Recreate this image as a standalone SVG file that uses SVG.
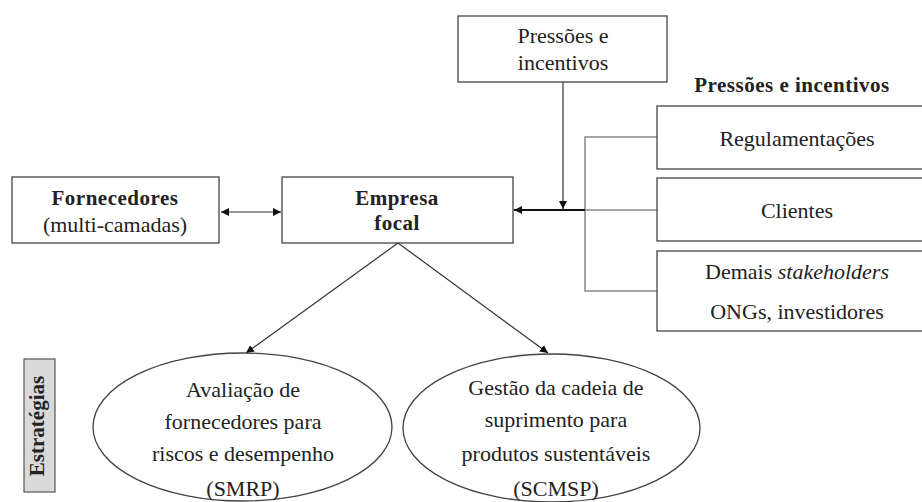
<svg xmlns="http://www.w3.org/2000/svg" width="922" height="502" viewBox="0 0 922 502">
<style>
text{font-family:"Liberation Serif","Times New Roman",serif;font-size:22px;fill:#222;text-anchor:middle}
.b{font-weight:bold;font-size:21px;letter-spacing:0.5px}
.box{fill:#fff;stroke:#444;stroke-width:1.3}
.ell{fill:#fff;stroke:#444;stroke-width:1.3}
.ln{fill:none;stroke:#333;stroke-width:1.2}
.gl{fill:none;stroke:#888;stroke-width:1.5}
</style>
<defs>
<marker id="ah" viewBox="0 0 10 10" refX="10" refY="5" markerWidth="8" markerHeight="8" markerUnits="userSpaceOnUse" orient="auto-start-reverse">
<path d="M0,0L10,5L0,10Z" fill="#111"/>
</marker>
</defs>
<g id="connectors">
<line class="ln" x1="221" y1="212" x2="281" y2="212" marker-start="url(#ah)" marker-end="url(#ah)"/>
<line class="ln" x1="563" y1="82" x2="563" y2="209" marker-end="url(#ah)"/>
<polyline class="gl" points="657,137 585,137 585,291 657,291"/>
<line class="gl" x1="585" y1="210" x2="657" y2="210"/>
<line x1="585" y1="210" x2="514" y2="210" stroke="#111" stroke-width="2" marker-end="url(#ah)"/>
<line class="ln" x1="398" y1="243" x2="246" y2="353" marker-end="url(#ah)"/>
<line class="ln" x1="398" y1="243" x2="548" y2="353" marker-end="url(#ah)"/>
</g>
<g id="fornecedores">
<rect class="box" x="12" y="177" width="207" height="66"/>
<text class="b" x="115" y="205">Fornecedores</text>
<text x="115" y="232">(multi-camadas)</text>
</g>
<g id="empresa">
<rect class="box" x="282" y="177" width="231" height="66"/>
<text class="b" x="397" y="205">Empresa</text>
<text class="b" x="397" y="230">focal</text>
</g>
<g id="pressoes-top">
<rect class="box" x="458" y="16" width="209" height="66"/>
<text x="563" y="43">Pressões e</text>
<text x="563" y="70">incentivos</text>
</g>
<g id="header">
<text class="b" x="792" y="92">Pressões e incentivos</text>
</g>
<g id="regulamentacoes">
<rect class="box" x="657" y="106" width="270" height="63"/>
<text x="797" y="146">Regulamentações</text>
</g>
<g id="clientes">
<rect class="box" x="657" y="178" width="270" height="63"/>
<text x="797" y="218">Clientes</text>
</g>
<g id="demais">
<rect class="box" x="657" y="251" width="270" height="80"/>
<text x="797" y="279">Demais <tspan font-style="italic">stakeholders</tspan></text>
<text x="797" y="319">ONGs, investidores</text>
</g>
<g id="estrategias">
<rect x="24" y="359" width="31" height="133" fill="#d9d9d9" stroke="#555" stroke-width="1.2"/>
<text class="b" transform="translate(44,426) rotate(-90)" style="letter-spacing:0">Estratégias</text>
</g>
<g id="smrp">
<ellipse class="ell" cx="242.5" cy="427" rx="149.5" ry="74"/>
<text x="243" y="397">Avaliação de</text>
<text x="243" y="429">fornecedores para</text>
<text x="243" y="461">riscos e desempenho</text>
<text x="243" y="496">(SMRP)</text>
</g>
<g id="scmsp">
<ellipse class="ell" cx="551.5" cy="428" rx="148.5" ry="74"/>
<text x="556" y="395">Gestão da cadeia de</text>
<text x="556" y="427">suprimento para</text>
<text x="556" y="461">produtos sustentáveis</text>
<text x="556" y="496">(SCMSP)</text>
</g>
</svg>
